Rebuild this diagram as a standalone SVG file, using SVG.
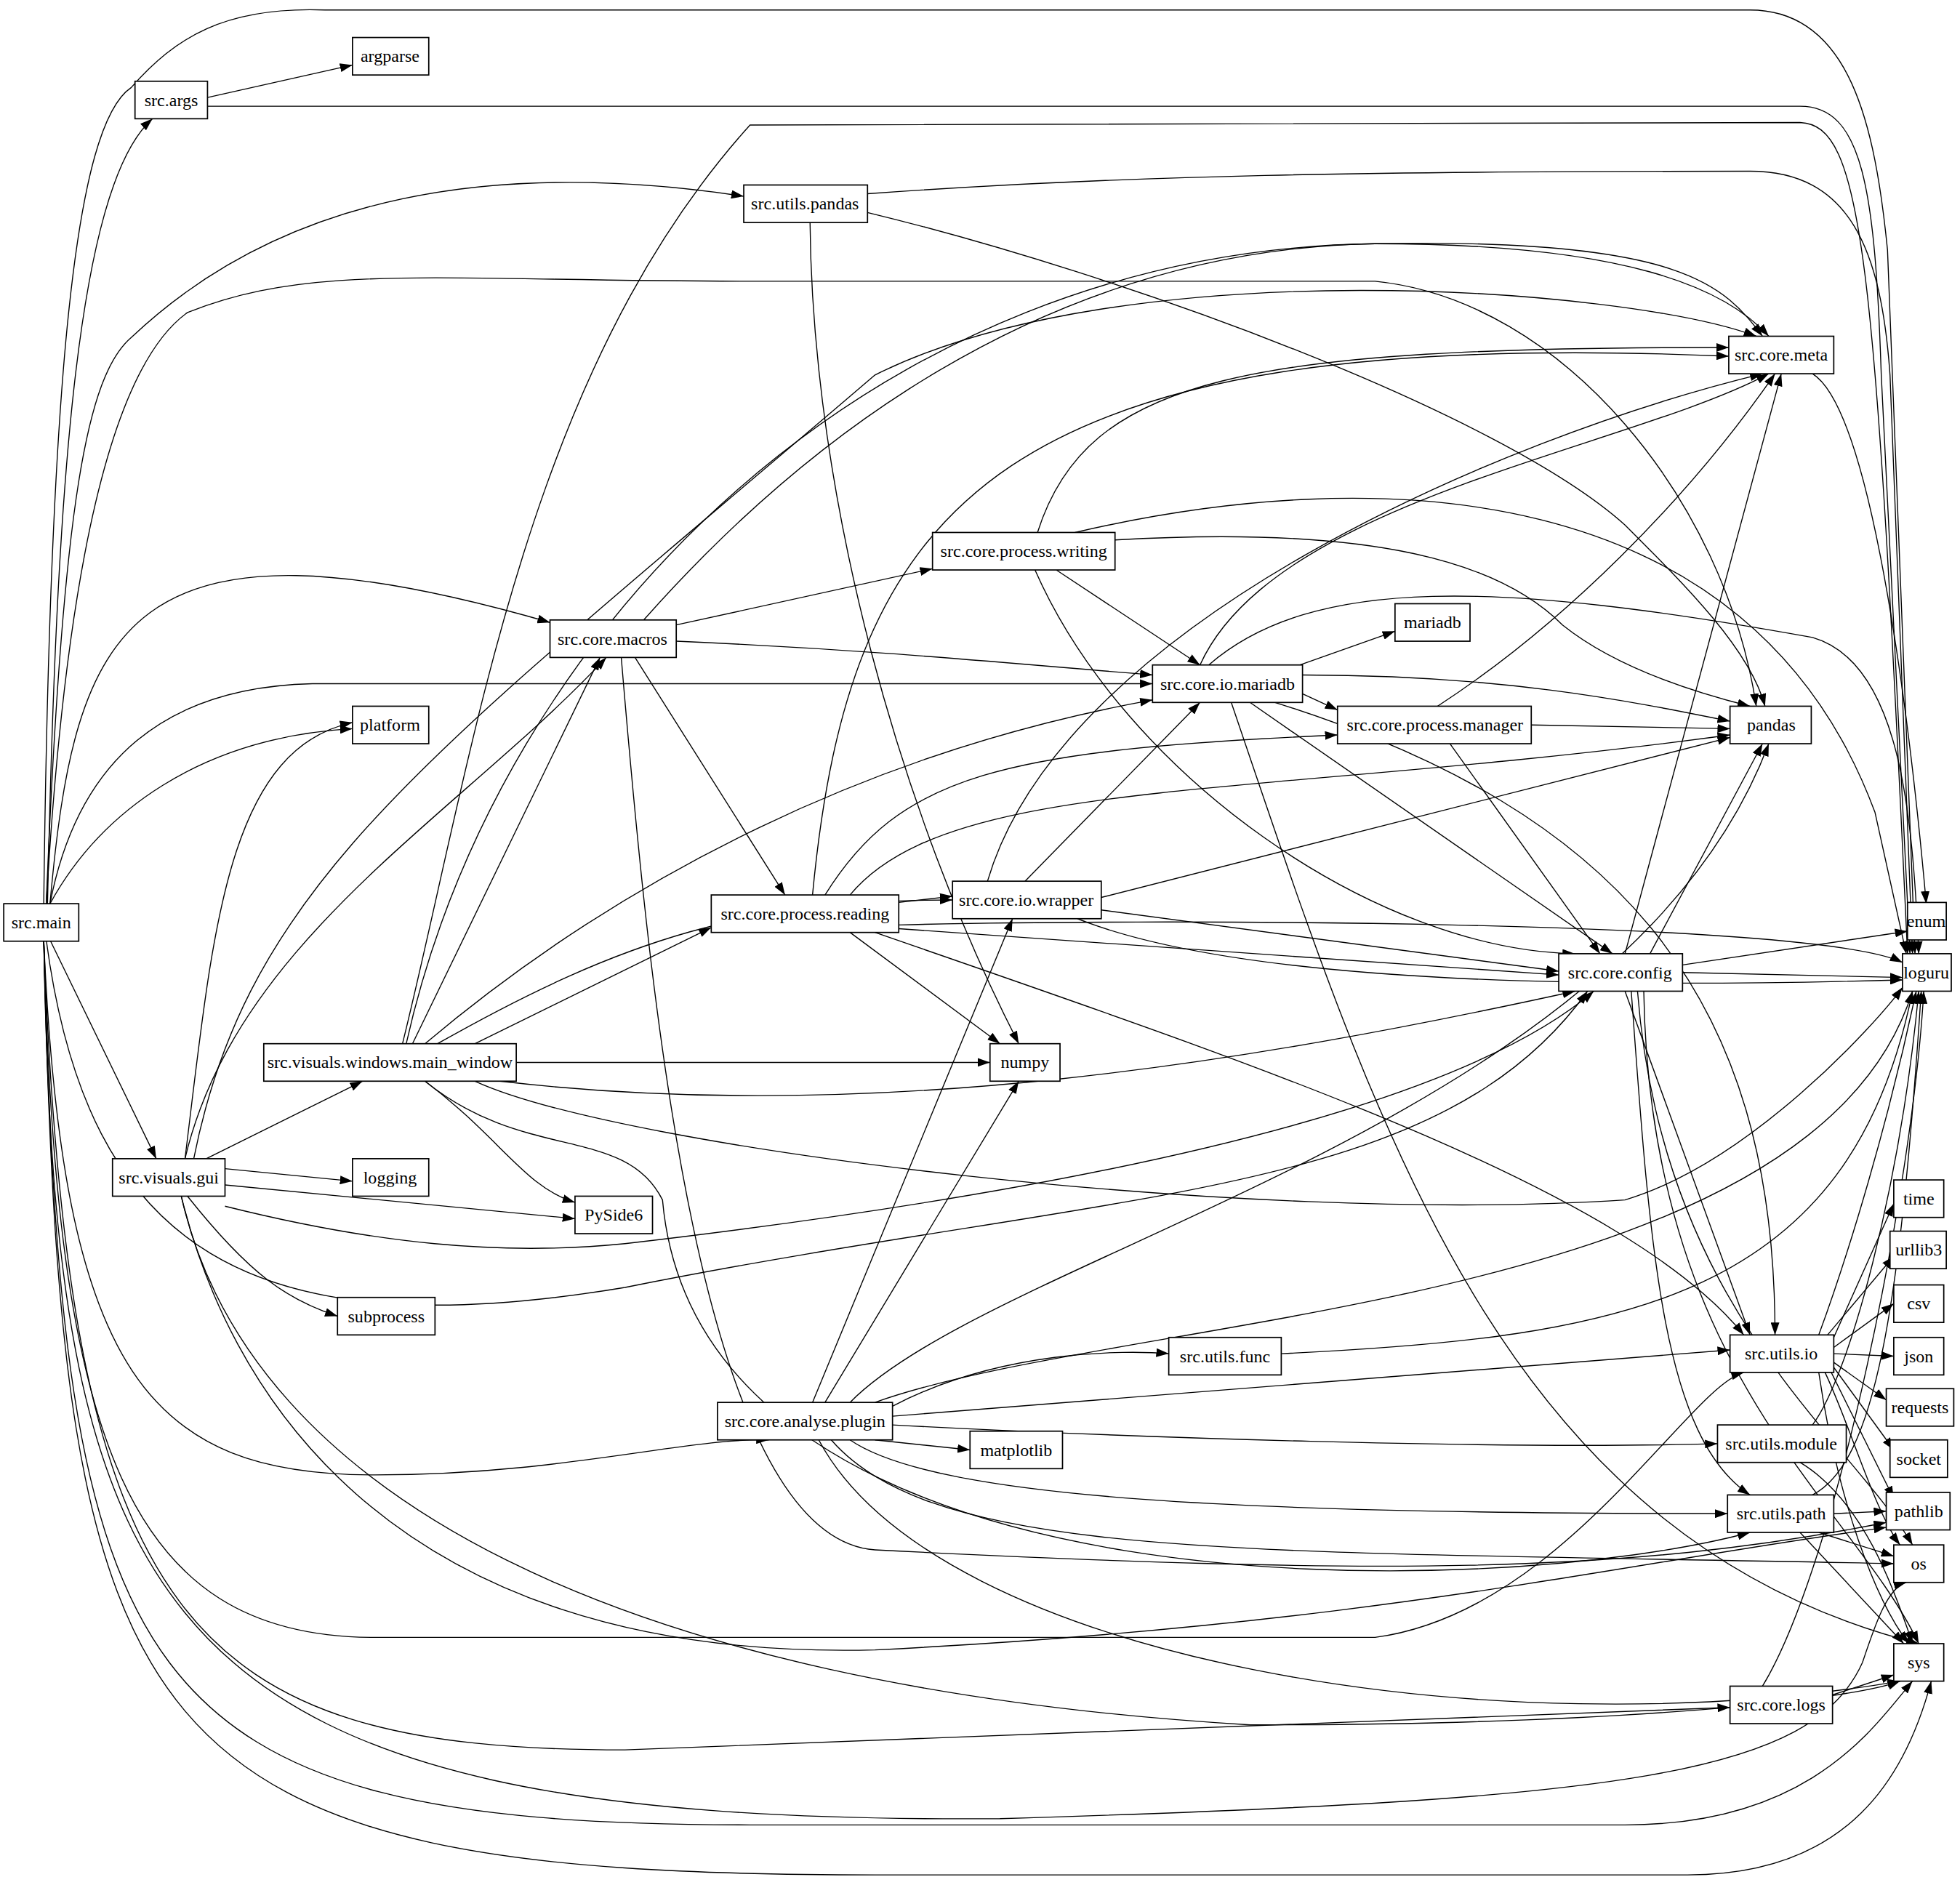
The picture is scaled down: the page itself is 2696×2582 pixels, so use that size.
<svg xmlns="http://www.w3.org/2000/svg" width="2696" height="2582" viewBox="0 0 2696 2582">
<style>
.n rect{fill:#fff;stroke:#000;stroke-width:1}
.n text{font-family:"Liberation Serif","DejaVu Serif",serif;font-size:14px;text-anchor:middle;dominant-baseline:central;fill:#000}
#edges path{fill:none;stroke:#000;stroke-width:0.8;marker-end:url(#ah)}
</style>
<defs><marker id="ah" viewBox="0 0 10 7" markerWidth="10" markerHeight="7" refX="10" refY="3.5" orient="auto" markerUnits="userSpaceOnUse"><path d="M0,0L10,3.5L0,7z" fill="#000"/></marker></defs>
<rect width="2696" height="2582" fill="#fff"/>
<g transform="scale(1.7194)">
<g id="edges">
<path d="M38,723C45,400 60,150 122,95"/>
<path d="M166,78L282,52"/>
<path d="M166,85L1440,85C1490,85 1500,150 1505,300L1528,763"/>
<path d="M35,723C40,300 60,100 105,70C140,30 180,5 260,8L1400,8C1480,8 1500,100 1510,200L1532,763"/>
<path d="M37,723C50,400 70,300 105,270C200,180 350,120 595,157"/>
<path d="M694,155C900,140 1100,137 1400,137C1480,137 1505,200 1512,300L1530,763"/>
<path d="M694,170C900,220 1200,330 1300,420C1350,470 1400,520 1412,565"/>
<path d="M648,177C650,400 720,650 815,835"/>
<path d="M37,723C50,500 80,300 150,250C250,210 350,225 600,225L1100,225C1250,240 1380,400 1405,565"/>
<path d="M40,723C60,500 100,400 440,498"/>
<path d="M40,723C60,620 120,550 250,547L922,547"/>
<path d="M40,723C80,650 160,590 282,583"/>
<path d="M148,927C170,750 180,600 282,578"/>
<path d="M40,752L125,927"/>
<path d="M35,752C50,1100 120,1180 300,1180C450,1180 550,1150 615,1152"/>
<path d="M35,752C45,1150 100,1310 300,1310L1100,1310C1250,1290 1350,1110 1395,1098"/>
<path d="M35,752C55,1300 150,1400 500,1400L1384,1366"/>
<path d="M35,752C50,1350 100,1460 600,1460L1300,1460C1450,1460 1500,1380 1530,1345"/>
<path d="M35,752C50,1400 100,1500 700,1500L1350,1500C1480,1500 1525,1420 1545,1345"/>
<path d="M35,752C45,1300 120,1460 800,1455C1300,1440 1450,1420 1490,1330C1500,1300 1510,1270 1525,1266"/>
<path d="M37,752C70,1000 200,1080 500,1030C900,950 1150,960 1270,793"/>
<path d="M515,496C600,400 800,200 1100,195C1350,190 1380,230 1410,269"/>
<path d="M541,500L746,455"/>
<path d="M541,513C700,520 800,530 922,540"/>
<path d="M508,526L628,716"/>
<path d="M497,526C520,800 560,1230 700,1240C1100,1260 1300,1260 1509,1218"/>
<path d="M830,426C870,300 1000,278 1383,278"/>
<path d="M860,426C1100,370 1400,380 1500,650L1525,763"/>
<path d="M892,432C1100,420 1200,450 1250,500C1300,540 1380,560 1400,565"/>
<path d="M845,456L960,532"/>
<path d="M828,456C900,620 1100,760 1260,763"/>
<path d="M1040,532L1116,505"/>
<path d="M960,532C1020,400 1300,360 1415,299"/>
<path d="M967,532C1050,460 1200,465 1450,510C1520,530 1530,650 1535,763"/>
<path d="M1042,540C1200,540 1300,560 1384,577"/>
<path d="M1042,555L1070,568"/>
<path d="M1000,562L1290,763"/>
<path d="M1020,562C1300,650 1420,800 1420,1068"/>
<path d="M985,562C1100,900 1200,1230 1535,1315"/>
<path d="M1150,565C1250,500 1350,400 1420,299"/>
<path d="M1225,580L1384,583"/>
<path d="M1160,595L1280,763"/>
<path d="M650,716C680,400 800,260 1383,285"/>
<path d="M660,716C720,620 800,600 1070,588"/>
<path d="M680,716C760,620 1000,640 1384,588"/>
<path d="M719,722L762,717"/>
<path d="M719,740C900,735 1450,735 1522,770"/>
<path d="M719,743L1247,780"/>
<path d="M680,746L800,835"/>
<path d="M700,746C1000,850 1300,950 1395,1068"/>
<path d="M820,705L960,562"/>
<path d="M790,705C850,500 1200,350 1410,299"/>
<path d="M881,718L1384,590"/>
<path d="M881,728L1247,777"/>
<path d="M862,735C1000,790 1300,790 1522,784"/>
<path d="M1300,763L1425,299"/>
<path d="M1320,763L1410,595"/>
<path d="M1346,772L1526,745"/>
<path d="M1346,778L1522,782"/>
<path d="M1300,793L1400,1068"/>
<path d="M1305,793C1320,1000 1330,1150 1400,1196"/>
<path d="M1310,793C1330,1050 1480,1150 1530,1236"/>
<path d="M1315,793C1320,1100 1480,1200 1535,1315"/>
<path d="M1450,299C1500,330 1530,600 1541,723"/>
<path d="M330,835L480,526"/>
<path d="M325,835C400,500 700,200 1100,195C1300,195 1380,230 1415,269"/>
<path d="M322,835C380,600 420,300 600,100L1440,98C1490,100 1500,200 1526,763"/>
<path d="M340,835C500,700 700,600 922,560"/>
<path d="M350,835C500,750 600,720 762,720"/>
<path d="M380,835L569,742"/>
<path d="M413,850L792,850"/>
<path d="M400,865C700,900 1000,850 1260,793"/>
<path d="M380,865C500,920 1000,980 1300,960C1400,930 1500,820 1522,790"/>
<path d="M340,865C400,910 420,950 460,962"/>
<path d="M340,865C420,930 500,900 530,960C560,1300 1200,1280 1400,1226"/>
<path d="M165,927L290,865"/>
<path d="M180,935L282,945"/>
<path d="M180,948L460,975"/>
<path d="M150,957C200,1020 230,1040 270,1053"/>
<path d="M148,927C190,750 370,650 485,526"/>
<path d="M155,927C200,700 350,600 700,300C900,200 1300,230 1405,269"/>
<path d="M180,965C300,995 400,1005 500,995C800,960 1150,900 1275,793"/>
<path d="M145,957C200,1200 500,1350 1000,1380C1300,1380 1480,1360 1520,1345"/>
<path d="M145,957C180,1100 300,1330 700,1320C1100,1300 1300,1250 1509,1222"/>
<path d="M650,1122L810,735"/>
<path d="M660,1122L815,865"/>
<path d="M680,1122C800,1000 1300,900 1415,595"/>
<path d="M700,1122C900,1050 1450,1050 1530,793"/>
<path d="M714,1125C800,1080 900,1080 935,1083"/>
<path d="M714,1133L1384,1080"/>
<path d="M714,1140C900,1150 1200,1160 1374,1155"/>
<path d="M700,1152L776,1160"/>
<path d="M680,1152C750,1200 1000,1211 1382,1211"/>
<path d="M665,1152C750,1250 1000,1240 1515,1251"/>
<path d="M655,1152C750,1330 1200,1400 1520,1345"/>
<path d="M1025,1083C1300,1070 1480,1040 1530,793"/>
<path d="M1467,1070L1515,963"/>
<path d="M1462,1068L1515,1005"/>
<path d="M1467,1078L1515,1043"/>
<path d="M1467,1083L1515,1085"/>
<path d="M1467,1090L1509,1120"/>
<path d="M1467,1094L1515,1160"/>
<path d="M1465,1098L1515,1199"/>
<path d="M1460,1098C1480,1140 1500,1210 1520,1236"/>
<path d="M1455,1098C1470,1200 1500,1280 1527,1315"/>
<path d="M1455,1068C1480,1000 1510,900 1533,793"/>
<path d="M1450,1140C1480,1100 1520,950 1535,793"/>
<path d="M1440,1170C1490,1200 1515,1270 1530,1315"/>
<path d="M1467,1211L1509,1209"/>
<path d="M1455,1226L1515,1245"/>
<path d="M1440,1226L1523,1315"/>
<path d="M1450,1196C1500,1170 1520,1050 1537,793"/>
<path d="M1410,1349C1470,1250 1530,950 1539,793"/>
<path d="M1466,1356L1515,1340"/>
</g>
<g id="n_main" class="n"><rect x="3" y="723" width="60" height="30"/><text x="33" y="738">src.main</text></g>
<g id="n_args" class="n"><rect x="108" y="65" width="58" height="30"/><text x="137" y="80">src.args</text></g>
<g id="n_argparse" class="n"><rect x="282" y="30" width="61" height="30"/><text x="312" y="45">argparse</text></g>
<g id="n_upandas" class="n"><rect x="595" y="148" width="99" height="30"/><text x="644" y="163">src.utils.pandas</text></g>
<g id="n_meta" class="n"><rect x="1383" y="269" width="84" height="30"/><text x="1425" y="284">src.core.meta</text></g>
<g id="n_writing" class="n"><rect x="746" y="426" width="146" height="30"/><text x="819" y="441">src.core.process.writing</text></g>
<g id="n_macros" class="n"><rect x="440" y="496" width="101" height="30"/><text x="490" y="511">src.core.macros</text></g>
<g id="n_mariadb" class="n"><rect x="1116" y="483" width="60" height="30"/><text x="1146" y="498">mariadb</text></g>
<g id="n_iomariadb" class="n"><rect x="922" y="532" width="120" height="30"/><text x="982" y="547">src.core.io.mariadb</text></g>
<g id="n_manager" class="n"><rect x="1070" y="565" width="155" height="30"/><text x="1148" y="580">src.core.process.manager</text></g>
<g id="n_pandas" class="n"><rect x="1384" y="565" width="65" height="30"/><text x="1417" y="580">pandas</text></g>
<g id="n_platform" class="n"><rect x="282" y="565" width="61" height="30"/><text x="312" y="580">platform</text></g>
<g id="n_wrapper" class="n"><rect x="762" y="705" width="119" height="30"/><text x="821" y="720">src.core.io.wrapper</text></g>
<g id="n_reading" class="n"><rect x="569" y="716" width="150" height="30"/><text x="644" y="731">src.core.process.reading</text></g>
<g id="n_enum" class="n"><rect x="1526" y="722" width="31" height="30"/><text x="1541" y="737">enum</text></g>
<g id="n_config" class="n"><rect x="1247" y="763" width="99" height="30"/><text x="1296" y="778">src.core.config</text></g>
<g id="n_loguru" class="n"><rect x="1522" y="763" width="39" height="30"/><text x="1541" y="778">loguru</text></g>
<g id="n_mainwindow" class="n"><rect x="211" y="835" width="202" height="30"/><text x="312" y="850">src.visuals.windows.main_window</text></g>
<g id="n_numpy" class="n"><rect x="792" y="835" width="56" height="30"/><text x="820" y="850">numpy</text></g>
<g id="n_gui" class="n"><rect x="90" y="927" width="90" height="30"/><text x="135" y="942">src.visuals.gui</text></g>
<g id="n_logging" class="n"><rect x="282" y="927" width="61" height="30"/><text x="312" y="942">logging</text></g>
<g id="n_pyside6" class="n"><rect x="460" y="957" width="62" height="30"/><text x="491" y="972">PySide6</text></g>
<g id="n_subprocess" class="n"><rect x="270" y="1038" width="78" height="30"/><text x="309" y="1053">subprocess</text></g>
<g id="n_time" class="n"><rect x="1515" y="944" width="40" height="30"/><text x="1535" y="959">time</text></g>
<g id="n_urllib3" class="n"><rect x="1512" y="985" width="45" height="30"/><text x="1535" y="1000">urllib3</text></g>
<g id="n_csv" class="n"><rect x="1515" y="1028" width="40" height="30"/><text x="1535" y="1043">csv</text></g>
<g id="n_func" class="n"><rect x="935" y="1070" width="90" height="30"/><text x="980" y="1085">src.utils.func</text></g>
<g id="n_uio" class="n"><rect x="1384" y="1068" width="83" height="30"/><text x="1425" y="1083">src.utils.io</text></g>
<g id="n_json" class="n"><rect x="1515" y="1070" width="40" height="30"/><text x="1535" y="1085">json</text></g>
<g id="n_plugin" class="n"><rect x="574" y="1122" width="140" height="30"/><text x="644" y="1137">src.core.analyse.plugin</text></g>
<g id="n_requests" class="n"><rect x="1509" y="1111" width="54" height="30"/><text x="1536" y="1126">requests</text></g>
<g id="n_module" class="n"><rect x="1374" y="1140" width="103" height="30"/><text x="1425" y="1155">src.utils.module</text></g>
<g id="n_matplotlib" class="n"><rect x="776" y="1145" width="74" height="30"/><text x="813" y="1160">matplotlib</text></g>
<g id="n_socket" class="n"><rect x="1512" y="1152" width="46" height="30"/><text x="1535" y="1167">socket</text></g>
<g id="n_pathlib" class="n"><rect x="1509" y="1194" width="51" height="30"/><text x="1535" y="1209">pathlib</text></g>
<g id="n_upath" class="n"><rect x="1382" y="1196" width="85" height="30"/><text x="1425" y="1211">src.utils.path</text></g>
<g id="n_os" class="n"><rect x="1515" y="1236" width="40" height="30"/><text x="1535" y="1251">os</text></g>
<g id="n_sys" class="n"><rect x="1515" y="1315" width="40" height="30"/><text x="1535" y="1330">sys</text></g>
<g id="n_logs" class="n"><rect x="1384" y="1349" width="82" height="30"/><text x="1425" y="1364">src.core.logs</text></g>
</g>
</svg>
